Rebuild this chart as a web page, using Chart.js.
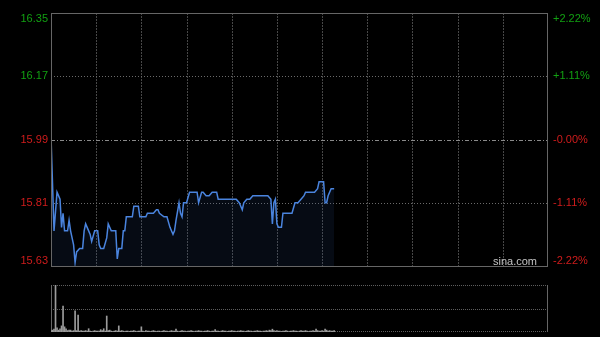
<!DOCTYPE html>
<html>
<head>
<meta charset="utf-8">
<script src="https://cdn.jsdelivr.net/npm/chart.js@4.4.1/dist/chart.umd.min.js"></script>
<style>
html, body { margin: 0; padding: 0; background: #000; }
#wrap { position: relative; width: 600px; height: 337px; }
#wrap canvas { position: absolute; left: 0; top: 0; }
</style>
</head>
<body>
<div id="wrap">
    <canvas id="priceChart" width="600" height="337"></canvas>
    <canvas id="volChart" width="600" height="337"></canvas>
</div>
<script>
// Intraday data (minute index from open, 330 minutes in session)
const prevClose = 15.99;
const priceTicks = [16.35, 16.17, 15.99, 15.81, 15.63];
const pctTicks = ['+2.22%', '+1.11%', '-0.00%', '-1.11%', '-2.22%'];
const timeGrid = [30, 60, 90, 120, 150, 180, 210, 240, 270, 300];

const priceMinute = [0, 2, 4, 6, 7, 8, 9, 11, 12, 13, 15, 16, 17, 19, 21, 22, 23, 25, 26, 27,
    29, 31, 32, 33, 35, 37, 38, 40, 43, 44, 45, 47, 48, 49, 50, 54, 55, 58, 59, 63,
    64, 68, 70, 71, 72, 75, 77, 79, 81, 82, 83, 85, 86, 87, 88, 90, 92, 97, 98, 100,
    101, 103, 105, 107, 110, 111, 123, 125, 126, 127, 128, 130, 132, 134, 144, 146, 147, 148, 149, 150,
    151, 153, 154, 160, 162, 164, 166, 168, 169, 175, 177, 178, 181, 182, 183, 184, 186, 188];
const priceValue = [16.00, 15.73, 15.84, 15.82, 15.74, 15.78, 15.73, 15.73, 15.76, 15.73, 15.69, 15.64, 15.67, 15.68, 15.68, 15.73, 15.75, 15.73, 15.72, 15.70,
    15.73, 15.73, 15.69, 15.68, 15.68, 15.71, 15.75, 15.73, 15.73, 15.65, 15.68, 15.68, 15.73, 15.73, 15.77, 15.77, 15.80, 15.80, 15.77, 15.77,
    15.78, 15.78, 15.79, 15.79, 15.78, 15.77, 15.77, 15.74, 15.72, 15.73, 15.76, 15.81, 15.78, 15.77, 15.81, 15.81, 15.84, 15.84, 15.81, 15.84,
    15.84, 15.83, 15.83, 15.84, 15.84, 15.82, 15.82, 15.81, 15.80, 15.79, 15.81, 15.82, 15.82, 15.83, 15.83, 15.82, 15.75, 15.81, 15.82, 15.75,
    15.74, 15.74, 15.78, 15.78, 15.81, 15.81, 15.82, 15.83, 15.84, 15.84, 15.85, 15.87, 15.87, 15.81, 15.81, 15.83, 15.85, 15.85];

// volume per minute, relative units (100 = top of panel)
const volume = [3, 4, 6, 100, 9, 4, 7, 13, 55, 11,
    7, 3, 4, 4, 2, 3, 45, 3, 36, 2,
    3, 2, 2, 3, 2, 7, 2, 1, 2, 3,
    2, 2, 2, 5, 3, 7, 2, 34, 3, 4,
    2, 1, 2, 3, 2, 13, 2, 3, 2, 1,
    2, 2, 1, 2, 2, 3, 2, 1, 2, 2,
    11, 2, 1, 3, 2, 2, 1, 2, 3, 2,
    1, 2, 2, 1, 2, 3, 2, 2, 1, 2,
    3, 2, 2, 6, 2, 1, 2, 3, 2, 2,
    1, 2, 2, 3, 2, 1, 2, 2, 3, 2,
    2, 1, 2, 2, 3, 2, 1, 2, 2, 5,
    2, 2, 1, 2, 3, 2, 2, 1, 2, 2,
    3, 2, 2, 1, 2, 2, 3, 2, 2, 1,
    2, 3, 2, 2, 1, 2, 2, 3, 2, 2,
    1, 2, 2, 3, 2, 4, 3, 6, 3, 2,
    3, 2, 2, 1, 2, 2, 3, 2, 1, 2,
    2, 3, 2, 2, 1, 2, 3, 2, 2, 3,
    2, 1, 2, 2, 3, 2, 6, 3, 2, 2,
    3, 2, 6, 4, 2, 3, 2, 2, 3];

const FONT = '11px "Liberation Sans", Arial, sans-serif';
const UP = '#12a012';
const DOWN = '#d01c1c';

function hLine(ctx, y, x0, x1) {
    ctx.beginPath(); ctx.moveTo(x0, y); ctx.lineTo(x1, y); ctx.stroke();
}
function vLine(ctx, x, y0, y1) {
    ctx.beginPath(); ctx.moveTo(x, y0); ctx.lineTo(x, y1); ctx.stroke();
}

// grid, frame and labels of the price panel
const priceFrame = {
    id: 'priceFrame',
    beforeDatasetsDraw(chart) {
        const { ctx, chartArea: a, scales: { x, y } } = chart;
        ctx.save();
        ctx.lineWidth = 1;
        ctx.strokeStyle = '#474747';
        ctx.setLineDash([2, 1]);
        timeGrid.forEach(m => vLine(ctx, Math.round(x.getPixelForValue(m)) + 0.5, a.top, a.bottom));
        priceTicks.slice(1, -1).forEach(p => {
            const py = Math.round(y.getPixelForValue(p)) + 0.5;
            if (p === prevClose) {
                ctx.strokeStyle = '#8a8a8a';
                ctx.setLineDash([4, 2, 1, 2]);
            } else {
                ctx.strokeStyle = '#6a6a6a';
                ctx.setLineDash([1, 2]);
            }
            hLine(ctx, py, a.left, a.right);
        });
        ctx.restore();
    },
    afterDraw(chart) {
        const { ctx, chartArea: a, scales: { y } } = chart;
        ctx.save();
        ctx.strokeStyle = '#666';
        ctx.lineWidth = 1;
        ctx.strokeRect(a.left + 0.5, a.top + 0.5, a.right - a.left - 1, a.bottom - a.top);

        ctx.font = FONT;
        ctx.textBaseline = 'middle';
        priceTicks.forEach((p, i) => {
            let py = y.getPixelForValue(p);
            if (i === 0) py += 6;
            if (i === priceTicks.length - 1) py -= 5;
            ctx.fillStyle = p > prevClose ? UP : DOWN;
            ctx.textAlign = 'right';
            ctx.fillText(p.toFixed(2), a.left - 3, py);
            ctx.textAlign = 'left';
            ctx.fillText(pctTicks[i], a.right + 5, py);
        });

        ctx.fillStyle = '#c4c4c4';
        ctx.textAlign = 'right';
        ctx.fillText('sina.com', a.right - 11, a.bottom - 4);
        ctx.restore();
    }
};

// dotted rows and side borders of the volume panel
const volFrame = {
    id: 'volFrame',
    beforeDatasetsDraw(chart) {
        const { ctx, chartArea: a, scales: { y } } = chart;
        ctx.save();
        ctx.lineWidth = 1;
        ctx.strokeStyle = '#5e5e5e';
        ctx.setLineDash([1, 1]);
        [100, 50, 0].forEach(v => {
            let py = Math.round(y.getPixelForValue(v)) + 0.5;
            if (v === 0) py -= 1;
            hLine(ctx, py, a.left, a.right);
        });
        ctx.setLineDash([]);
        ctx.strokeStyle = '#666';
        vLine(ctx, a.left + 0.5, a.top, a.bottom);
        vLine(ctx, a.right - 0.5, a.top, a.bottom);
        ctx.restore();
    }
};

new Chart(document.getElementById('priceChart'), {
    type: 'line',
    data: {
        datasets: [{
            data: priceMinute.map((m, i) => ({ x: m, y: priceValue[i] })),
            borderColor: '#4a84de',
            borderWidth: 1.5,
            backgroundColor: 'rgba(45, 75, 140, 0.14)',
            fill: 'start',
            pointRadius: 0,
            tension: 0
        }]
    },
    options: {
        responsive: false,
        animation: false,
        events: [],
        layout: { padding: { left: 51, right: 52, top: 13, bottom: 71 } },
        plugins: { legend: { display: false }, tooltip: { enabled: false } },
        scales: {
            x: { type: 'linear', min: 0, max: 330, display: false },
            y: { min: 15.63, max: 16.35, display: false }
        }
    },
    plugins: [priceFrame]
});

new Chart(document.getElementById('volChart'), {
    type: 'bar',
    data: {
        datasets: [{
            data: volume.map((v, i) => ({ x: i, y: v })),
            backgroundColor: '#9c9c9c',
            barThickness: 1
        }]
    },
    options: {
        responsive: false,
        animation: false,
        events: [],
        layout: { padding: { left: 51, right: 52, top: 285, bottom: 5 } },
        plugins: { legend: { display: false }, tooltip: { enabled: false } },
        scales: {
            x: { type: 'linear', min: 0, max: 330, display: false, offset: false },
            y: { min: 0, max: 100, display: false }
        }
    },
    plugins: [volFrame]
});
</script>
</body>
</html>
